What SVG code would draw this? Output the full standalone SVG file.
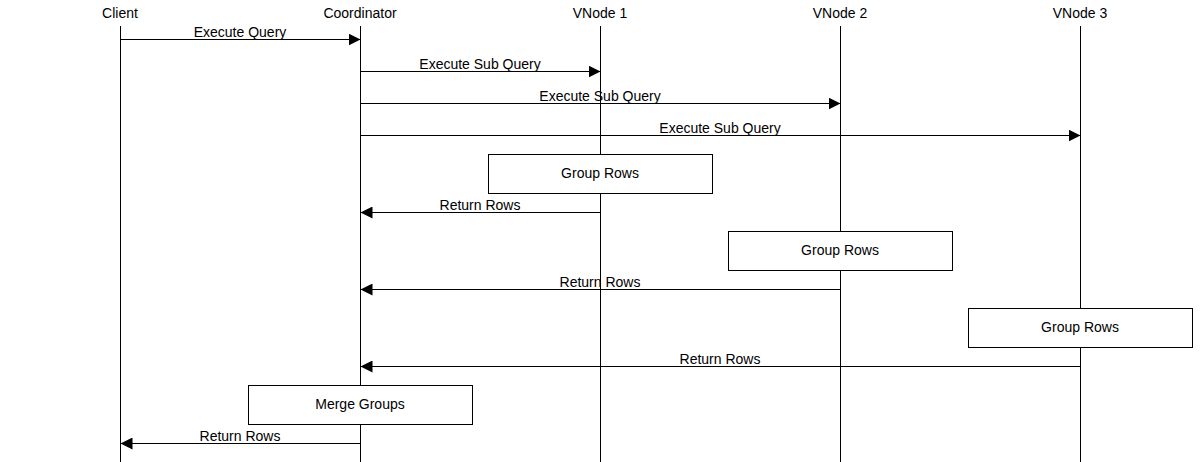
<svg xmlns="http://www.w3.org/2000/svg" width="1200" height="462" viewBox="0 0 1200 462">
<style>
text{font-family:"Liberation Sans",Arial,sans-serif;font-size:14px;fill:#000;text-anchor:middle}
.life{stroke:#000;stroke-width:1}
.msg{stroke:#000;stroke-width:1;fill:none;marker-end:url(#ah)}
.box{fill:#fff;stroke:#000;stroke-width:1}
</style>
<defs>
<marker id="ah" markerWidth="12" markerHeight="12" refX="12" refY="6" orient="auto" markerUnits="userSpaceOnUse">
<path d="M0,0 L12,6 L0,12 Z" fill="#000"/>
</marker>
</defs>
<rect width="1200" height="462" fill="#fff"/>
<g id="client"><text x="120" y="18">Client</text><line class="life" x1="120.5" y1="26" x2="120.5" y2="462"/></g>
<g id="coordinator"><text x="360" y="18">Coordinator</text><line class="life" x1="360.5" y1="26" x2="360.5" y2="462"/></g>
<g id="vnode1"><text x="600" y="18">VNode 1</text><line class="life" x1="600.5" y1="26" x2="600.5" y2="462"/></g>
<g id="vnode2"><text x="840" y="18">VNode 2</text><line class="life" x1="840.5" y1="26" x2="840.5" y2="462"/></g>
<g id="vnode3"><text x="1080" y="18">VNode 3</text><line class="life" x1="1080.5" y1="26" x2="1080.5" y2="462"/></g>
<g id="connectors">
<line class="msg" x1="120.5" y1="39.5" x2="360.5" y2="39.5"/><text x="240" y="37">Execute Query</text>
<line class="msg" x1="360.5" y1="71.5" x2="600.5" y2="71.5"/><text x="480" y="69">Execute Sub Query</text>
<line class="msg" x1="360.5" y1="103.5" x2="840.5" y2="103.5"/><text x="600" y="101">Execute Sub Query</text>
<line class="msg" x1="360.5" y1="135.5" x2="1080.5" y2="135.5"/><text x="720" y="133">Execute Sub Query</text>
<line class="msg" x1="600.5" y1="212.5" x2="360.5" y2="212.5"/><text x="480" y="210">Return Rows</text>
<line class="msg" x1="840.5" y1="289.5" x2="360.5" y2="289.5"/><text x="600" y="287">Return Rows</text>
<line class="msg" x1="1080.5" y1="366.5" x2="360.5" y2="366.5"/><text x="720" y="364">Return Rows</text>
<line class="msg" x1="360.5" y1="443.5" x2="120.5" y2="443.5"/><text x="240" y="441">Return Rows</text>
</g>
<g id="group1"><rect class="box" x="488.5" y="154.5" width="224" height="39"/><text x="600" y="178">Group Rows</text></g>
<g id="group2"><rect class="box" x="728.5" y="231.5" width="224" height="39"/><text x="840" y="255">Group Rows</text></g>
<g id="group3"><rect class="box" x="968.5" y="308.5" width="224" height="39"/><text x="1080" y="332">Group Rows</text></g>
<g id="merge"><rect class="box" x="248.5" y="385.5" width="224" height="39"/><text x="360" y="409">Merge Groups</text></g>
</svg>
